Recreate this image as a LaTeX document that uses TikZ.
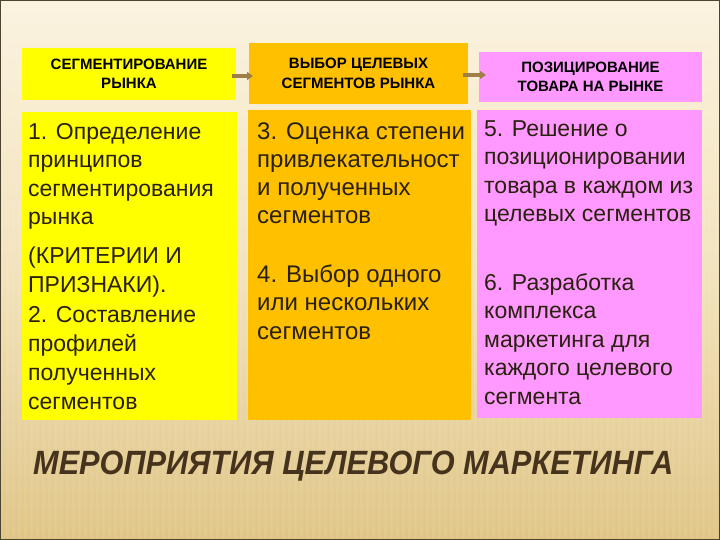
\documentclass[tikz,border=0pt]{standalone}
\usepackage{fontspec}
\setmainfont{Liberation Sans}
\usetikzlibrary{arrows.meta}
\definecolor{bgtop}{HTML}{FBF3E0}
\definecolor{bgmid}{HTML}{F3E3BC}
\definecolor{bgbot}{HTML}{E0C585}
\definecolor{frame}{HTML}{4A4430}
\definecolor{cyel}{HTML}{FFFF00}
\definecolor{corg}{HTML}{FFC000}
\definecolor{cpink}{HTML}{FF99FF}
\definecolor{arrc}{HTML}{A07E48}
\definecolor{txt}{HTML}{2A2010}
\definecolor{ttl}{HTML}{45331E}
\begin{document}
\begin{tikzpicture}[x=1pt,y=-1pt,
  box/.style={draw=none,inner sep=0pt,outer sep=0pt},
  head/.style={font=\fontsize{15}{19.5}\selectfont\bfseries,align=center,text=black},
  body/.style={font=\fontsize{23}{28.5}\selectfont,align=left,anchor=base west,text=txt,inner sep=0pt},
  arr/.style={-{Triangle[length=6pt,width=8pt]},line width=3.5pt,arrc}]
\useasboundingbox (0,0) rectangle (720,540);
\shade[top color=bgtop,bottom color=bgbot,middle color=bgmid] (0,0) rectangle (720,540);
\foreach \i in {0,...,119}
  \fill[white,opacity=0.07] (\i*6,200) rectangle (\i*6+3,538);
\draw[frame,line width=2.5pt] (0,0) rectangle (720,540);

% header boxes
\node[box,head,fill=cyel,minimum width=214pt,minimum height=52pt] (h1) at (129,74)
  {СЕГМЕНТИРОВАНИЕ\\РЫНКА};
\node[box,head,fill=corg,minimum width=219pt,minimum height=61pt] (h2) at (358.5,73.5)
  {ВЫБОР ЦЕЛЕВЫХ\\СЕГМЕНТОВ РЫНКА};
\node[box,head,fill=cpink,minimum width=223pt,minimum height=50pt] (h3) at (590.5,77)
  {ПОЗИЦИРОВАНИЕ\\ТОВАРА НА РЫНКЕ};

% body boxes
\node[box,fill=cyel,minimum width=215pt,minimum height=308pt] (b1) at (129.5,266) {};
\node[box,fill=corg,minimum width=223pt,minimum height=310pt] (b2) at (359.5,265) {};
\node[box,fill=cpink,minimum width=225pt,minimum height=308pt] (b3) at (589.5,264) {};

% arrows
\draw[arr] ([xshift=-4pt,yshift=-2pt]h1.east) -- ([xshift=4pt]h2.west |- 0,76);
\draw[arr] ([xshift=-5pt,yshift=-1.5pt]h2.east) -- ([xshift=7pt]h3.west |- 0,75);

% body texts (anchor = baseline of last line)
\node[body] (t1) at (28,225) {1. Определение\\принципов\\сегментирования\\рынка};
\node[body] (t2) at (28,292) {(КРИТЕРИИ И\\ПРИЗНАКИ).};
\node[body,font=\fontsize{23}{29}\selectfont] (t3) at (28,409) {2. Составление\\профилей\\полученных\\сегментов};

\node[body,font=\fontsize{24}{28.3}\selectfont] (t4) at (257,224) {3. Оценка степени\\привлекательност\\и полученных\\сегментов};
\node[body,font=\fontsize{24}{28.3}\selectfont] (t5) at (257,339) {4. Выбор одного\\или нескольких\\сегментов};

\node[body] (t6) at (484,222) {5. Решение о\\позиционировании\\товара в каждом из\\целевых сегментов};
\node[body] (t7) at (484,404) {6. Разработка\\комплекса\\маркетинга для\\каждого целевого\\сегмента};

% title
\node[anchor=base west,inner sep=0pt,text=ttl] (title) at (33,474)
  {\resizebox{640pt}{23.5pt}{\bfseries\itshape МЕРОПРИЯТИЯ ЦЕЛЕВОГО МАРКЕТИНГА}};
\end{tikzpicture}
\end{document}
